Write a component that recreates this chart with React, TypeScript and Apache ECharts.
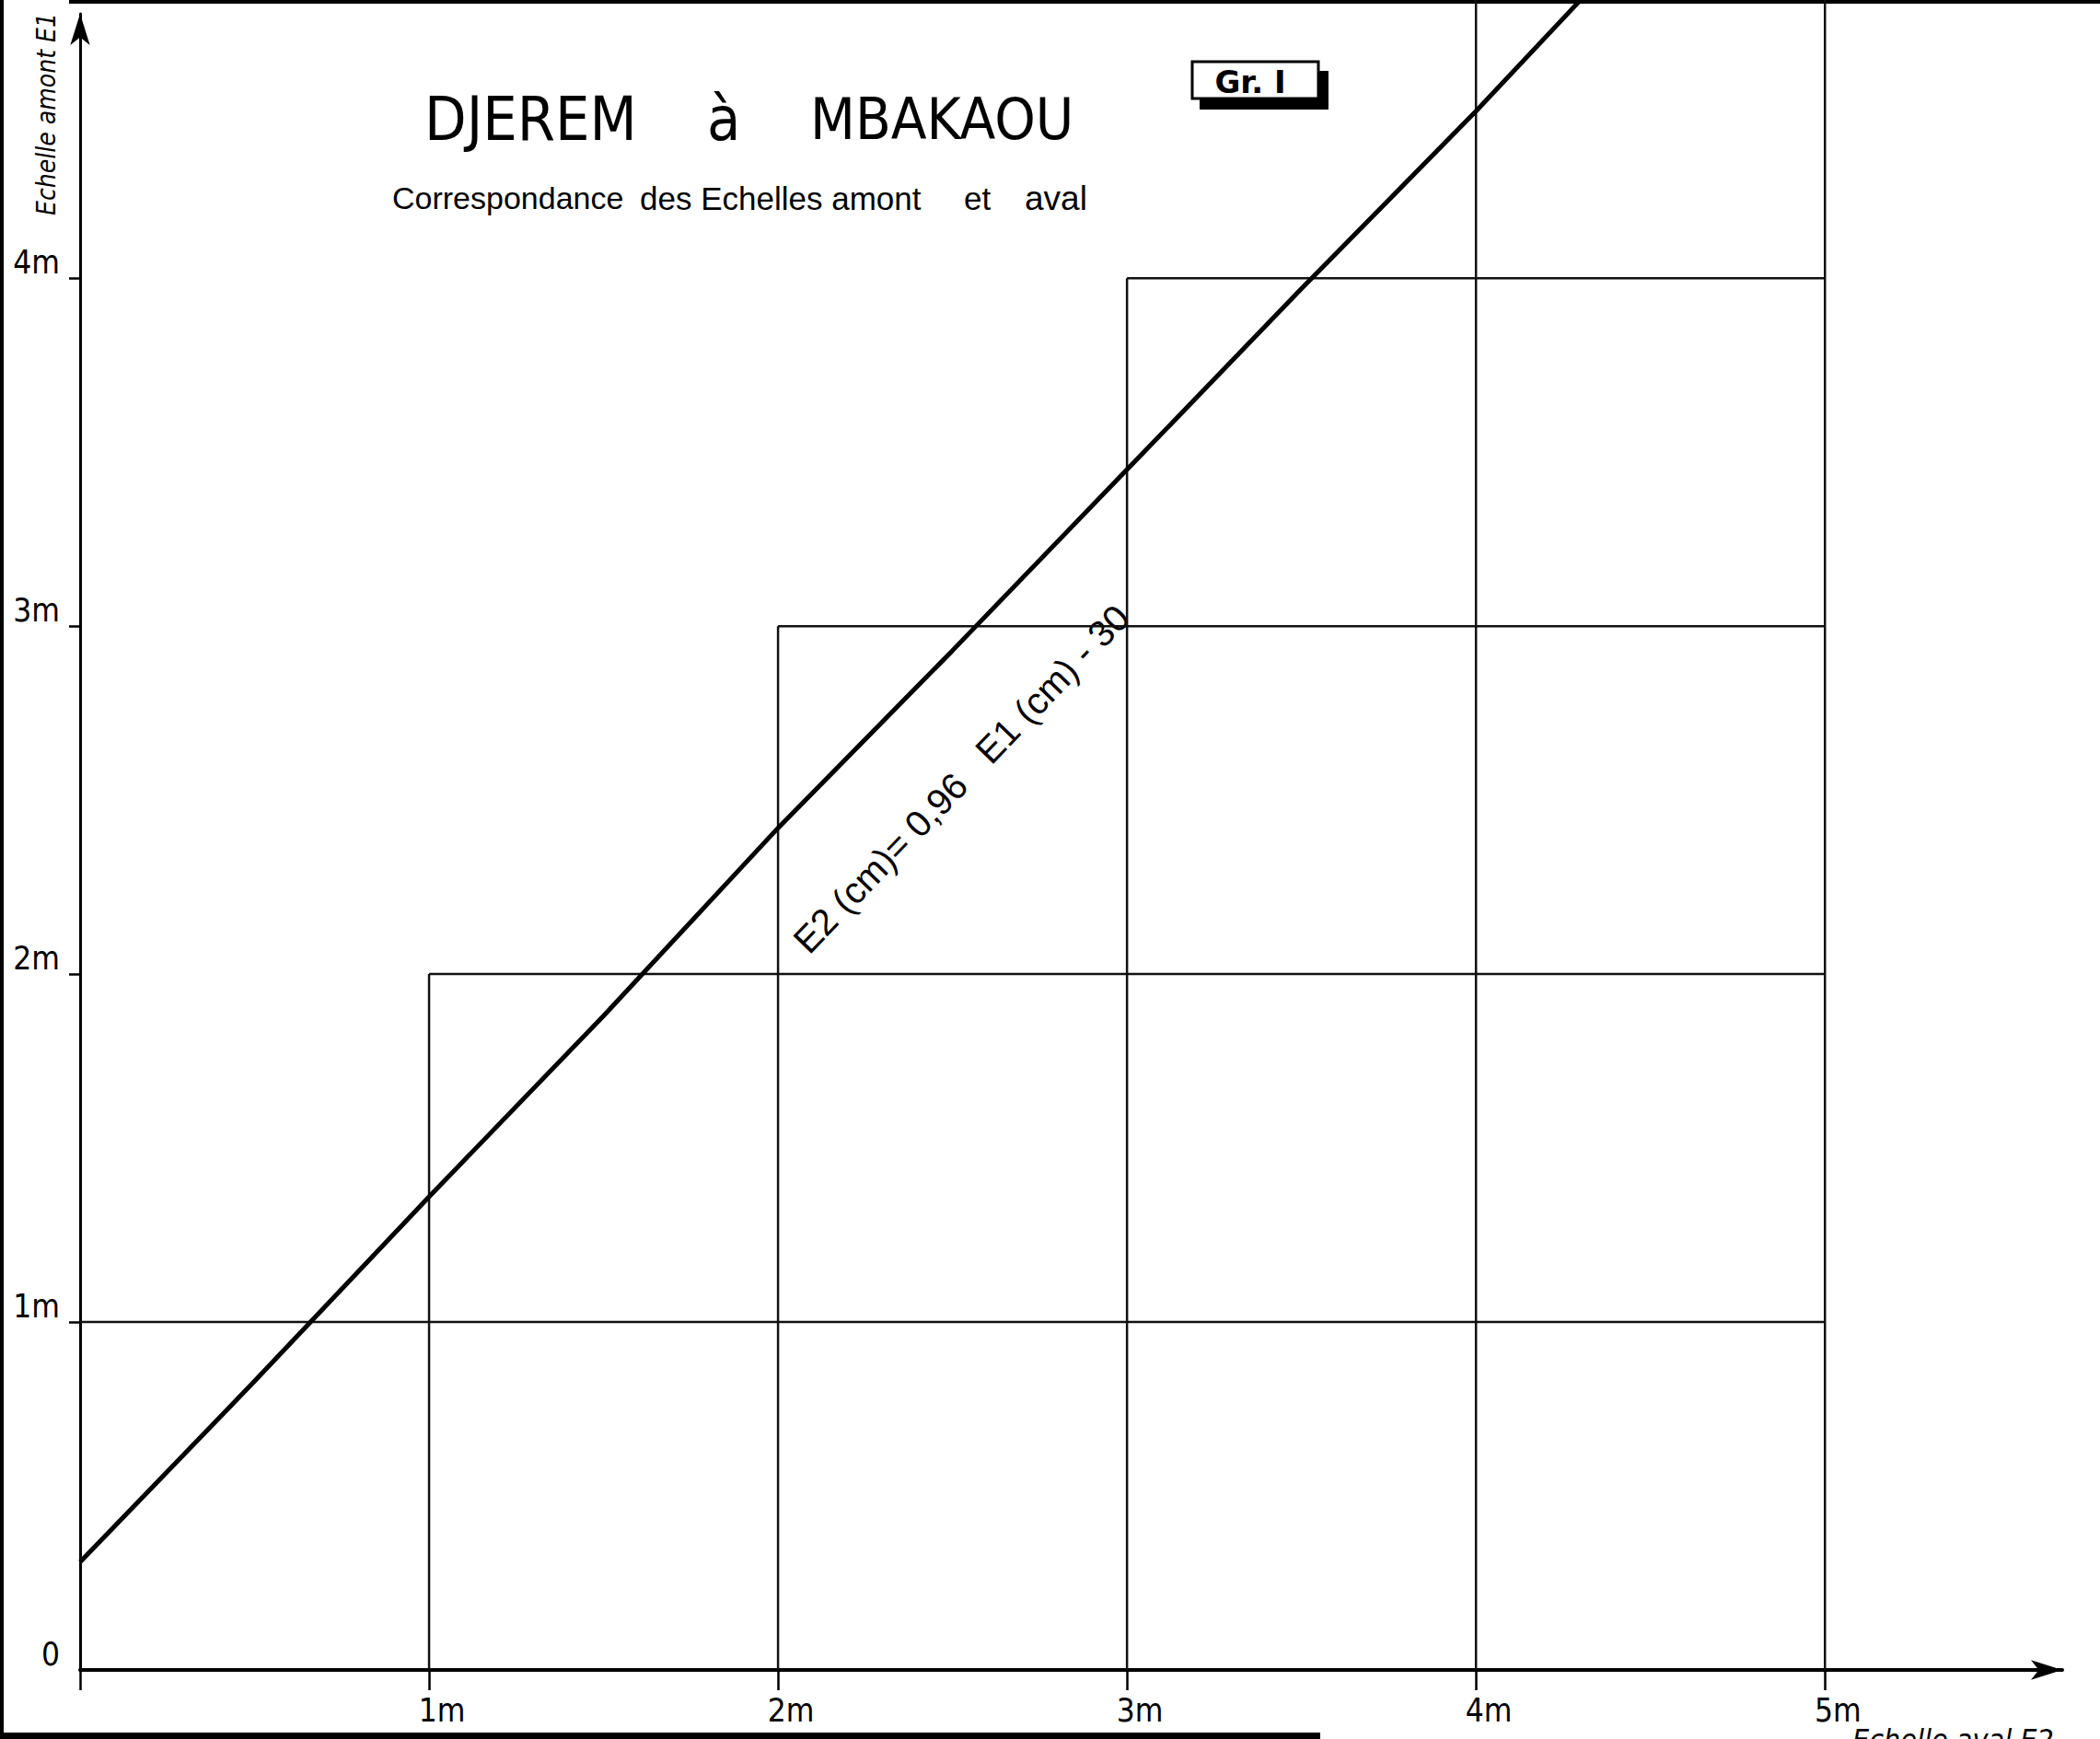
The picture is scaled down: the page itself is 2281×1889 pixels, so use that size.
import React, { useEffect, useRef } from "react";
import * as echarts from "echarts";

// Readings of the correspondence line (E2 = aval on x, E1 = amont on y), metres
const E2_READ = [0, 0.5, 1, 1.5, 2, 2.5, 3, 3.5, 4, 4.3];
const E1_READ = [0.31, 0.83, 1.36, 1.88, 2.42, 2.93, 3.45, 3.97, 4.48, 4.8];

// Staircase grid: horizontal lines (level, start) ending at 5 m
const H_LEVELS = [1, 2, 3, 4];
const H_STARTS = [0, 1, 2, 3];
const H_END = 5;
// vertical lines (position, top)
const V_POS = [1, 2, 3, 4, 5];
const V_TOPS = [2, 3, 4, 4.8, 4.8];

const X_TICKS = [0, 1, 2, 3, 4, 5];
const X_LABELS = [1, 2, 3, 4, 5];
const Y_TICKS = [1, 2, 3, 4];
const Y_LABELS = [0, 1, 2, 3, 4];

const NARROW = "'Liberation Sans Narrow', 'DejaVu Sans Condensed', 'Liberation Sans', sans-serif";
const SANS = "'Liberation Sans', 'DejaVu Sans', sans-serif";

export default function App() {
  const ref = useRef<HTMLDivElement>(null);
  useEffect(() => {
    document.body.style.margin = "0";
    document.body.style.overflow = "hidden";
    const chart = echarts.init(ref.current!, undefined, { renderer: "svg" });

    const gridSeries: any[] = [];
    H_LEVELS.forEach((lvl, i) => {
      gridSeries.push({
        type: "line",
        data: [[H_STARTS[i], lvl], [H_END, lvl]],
        symbol: "none",
        clip: false,
        silent: true,
        lineStyle: { color: "#111", width: 2.5 },
        z: 2,
      });
    });
    V_POS.forEach((x, i) => {
      gridSeries.push({
        type: "line",
        data: [[x, 0], [x, V_TOPS[i]]],
        symbol: "none",
        clip: false,
        silent: true,
        lineStyle: { color: "#111", width: 2.5 },
        z: 2,
      });
    });

    const option: any = {
      animation: false,
      backgroundColor: "#ffffff",
      grid: { left: 87, right: 41, top: 15, bottom: 75, containLabel: false, outerBoundsMode: "none" },
      xAxis: {
        type: "value",
        min: 0,
        max: 5.68,
        interval: 1,
        splitLine: { show: false },
        axisLine: {
          show: true,
          lineStyle: { color: "#000", width: 4 },
          symbol: ["none", "arrow"],
          symbolSize: [16, 34],
        },
        axisTick: {
          show: true,
          inside: false,
          length: 22,
          customValues: X_TICKS,
          lineStyle: { color: "#000", width: 2.5 },
        },
        axisLabel: {
          customValues: X_LABELS,
          formatter: (v: number) => `${v}m`,
          fontFamily: NARROW,
          fontSize: 35,
          color: "#000",
          margin: 26,
          padding: [0, 0, 0, 28],
        },
      },
      yAxis: {
        type: "value",
        min: 0,
        max: 4.76,
        interval: 1,
        splitLine: { show: false },
        axisLine: {
          show: true,
          lineStyle: { color: "#000", width: 3 },
          symbol: ["none", "arrow"],
          symbolSize: [16, 34],
        },
        axisTick: {
          show: true,
          inside: false,
          length: 12,
          customValues: Y_TICKS,
          lineStyle: { color: "#000", width: 2.5 },
        },
        axisLabel: {
          customValues: Y_LABELS,
          formatter: (v: number) => (v === 0 ? "0" : `${v}m`),
          fontFamily: NARROW,
          fontSize: 35,
          color: "#000",
          margin: 22,
          verticalAlign: "bottom",
        },
      },
      series: [
        ...gridSeries,
        {
          type: "line",
          data: E2_READ.map((x, i) => [x, E1_READ[i]]),
          symbol: "none",
          clip: false,
          lineStyle: { color: "#000", width: 5 },
          z: 4,
        },
      ],
      graphic: [
        // scan borders
        { type: "rect", shape: { x: 0, y: 0, width: 4, height: 1882 }, style: { fill: "#000" } },
        { type: "rect", shape: { x: 75, y: 0, width: 2206, height: 4 }, style: { fill: "#000" } },
        { type: "rect", shape: { x: 0, y: 1882, width: 1434, height: 7 }, style: { fill: "#000" } },
        // title
        {
          type: "text", x: 461, y: 129,
          style: { text: "DJEREM", fontFamily: NARROW, fontSize: 66, fill: "#000", align: "left", verticalAlign: "middle", textAlign: "left", textVerticalAlign: "middle" },
        },
        {
          type: "text", x: 768, y: 129,
          style: { text: "à", fontFamily: NARROW, fontSize: 66, fill: "#000", align: "left", verticalAlign: "middle", textAlign: "left", textVerticalAlign: "middle" },
        },
        {
          type: "text", x: 880, y: 129,
          style: { text: "MBAKAOU", fontFamily: NARROW, fontSize: 63, fill: "#000", align: "left", verticalAlign: "middle", textAlign: "left", textVerticalAlign: "middle" },
        },
        // subtitle
        {
          type: "text", x: 426, y: 215,
          style: { text: "Correspondance", fontFamily: SANS, fontSize: 34, fill: "#000", align: "left", verticalAlign: "middle", textAlign: "left", textVerticalAlign: "middle" },
        },
        {
          type: "text", x: 695, y: 215,
          style: { text: "des Echelles amont", fontFamily: SANS, fontSize: 35, fill: "#000", align: "left", verticalAlign: "middle", textAlign: "left", textVerticalAlign: "middle" },
        },
        {
          type: "text", x: 1047, y: 215,
          style: { text: "et", fontFamily: SANS, fontSize: 35, fill: "#000", align: "left", verticalAlign: "middle", textAlign: "left", textVerticalAlign: "middle" },
        },
        {
          type: "text", x: 1113, y: 215,
          style: { text: "aval", fontFamily: SANS, fontSize: 37, fill: "#000", align: "left", verticalAlign: "middle", textAlign: "left", textVerticalAlign: "middle" },
        },
        // Gr. I box
        { type: "rect", shape: { x: 1303, y: 77, width: 140, height: 42 }, style: { fill: "#000" } },
        { type: "rect", shape: { x: 1295, y: 67, width: 137, height: 40 }, style: { fill: "#fff", stroke: "#000", lineWidth: 3 } },
        {
          type: "text", x: 1358, y: 89,
          style: { text: "Gr. I", fontFamily: "'DejaVu Sans', sans-serif", fontWeight: "bold", fontSize: 34, fill: "#000", align: "center", verticalAlign: "middle", textAlign: "center", textVerticalAlign: "middle" },
        },
        // y axis title
        {
          type: "text", x: 50, y: 124, rotation: Math.PI / 2,
          style: { text: "Echelle amont E1", fontFamily: NARROW, fontStyle: "italic", fontSize: 28, fill: "#000", align: "center", verticalAlign: "middle", textAlign: "center", textVerticalAlign: "middle" },
        },
        // equation
        {
          type: "text", x: 1044, y: 846, rotation: (46.1 * Math.PI) / 180,
          style: { text: "E2 (cm)= 0,96   E1 (cm) - 30", fontFamily: SANS, fontSize: 40, fill: "#000", align: "center", verticalAlign: "middle", textAlign: "center", textVerticalAlign: "middle" },
        },
        // x axis title (cut off by page bottom, as in the scan)
        {
          type: "text", x: 2012, y: 1874,
          style: { text: "Echelle aval E2", fontFamily: NARROW, fontStyle: "italic", fontSize: 32, fill: "#000", align: "left", verticalAlign: "top", textAlign: "left", textVerticalAlign: "top" },
        },
      ],
    };
    chart.setOption(option);
    return () => chart.dispose();
  }, []);
  return (
    <div
      ref={ref}
      style={{ position: "absolute", left: 0, top: 0, width: 2281, height: 1889 }}
    />
  );
}
